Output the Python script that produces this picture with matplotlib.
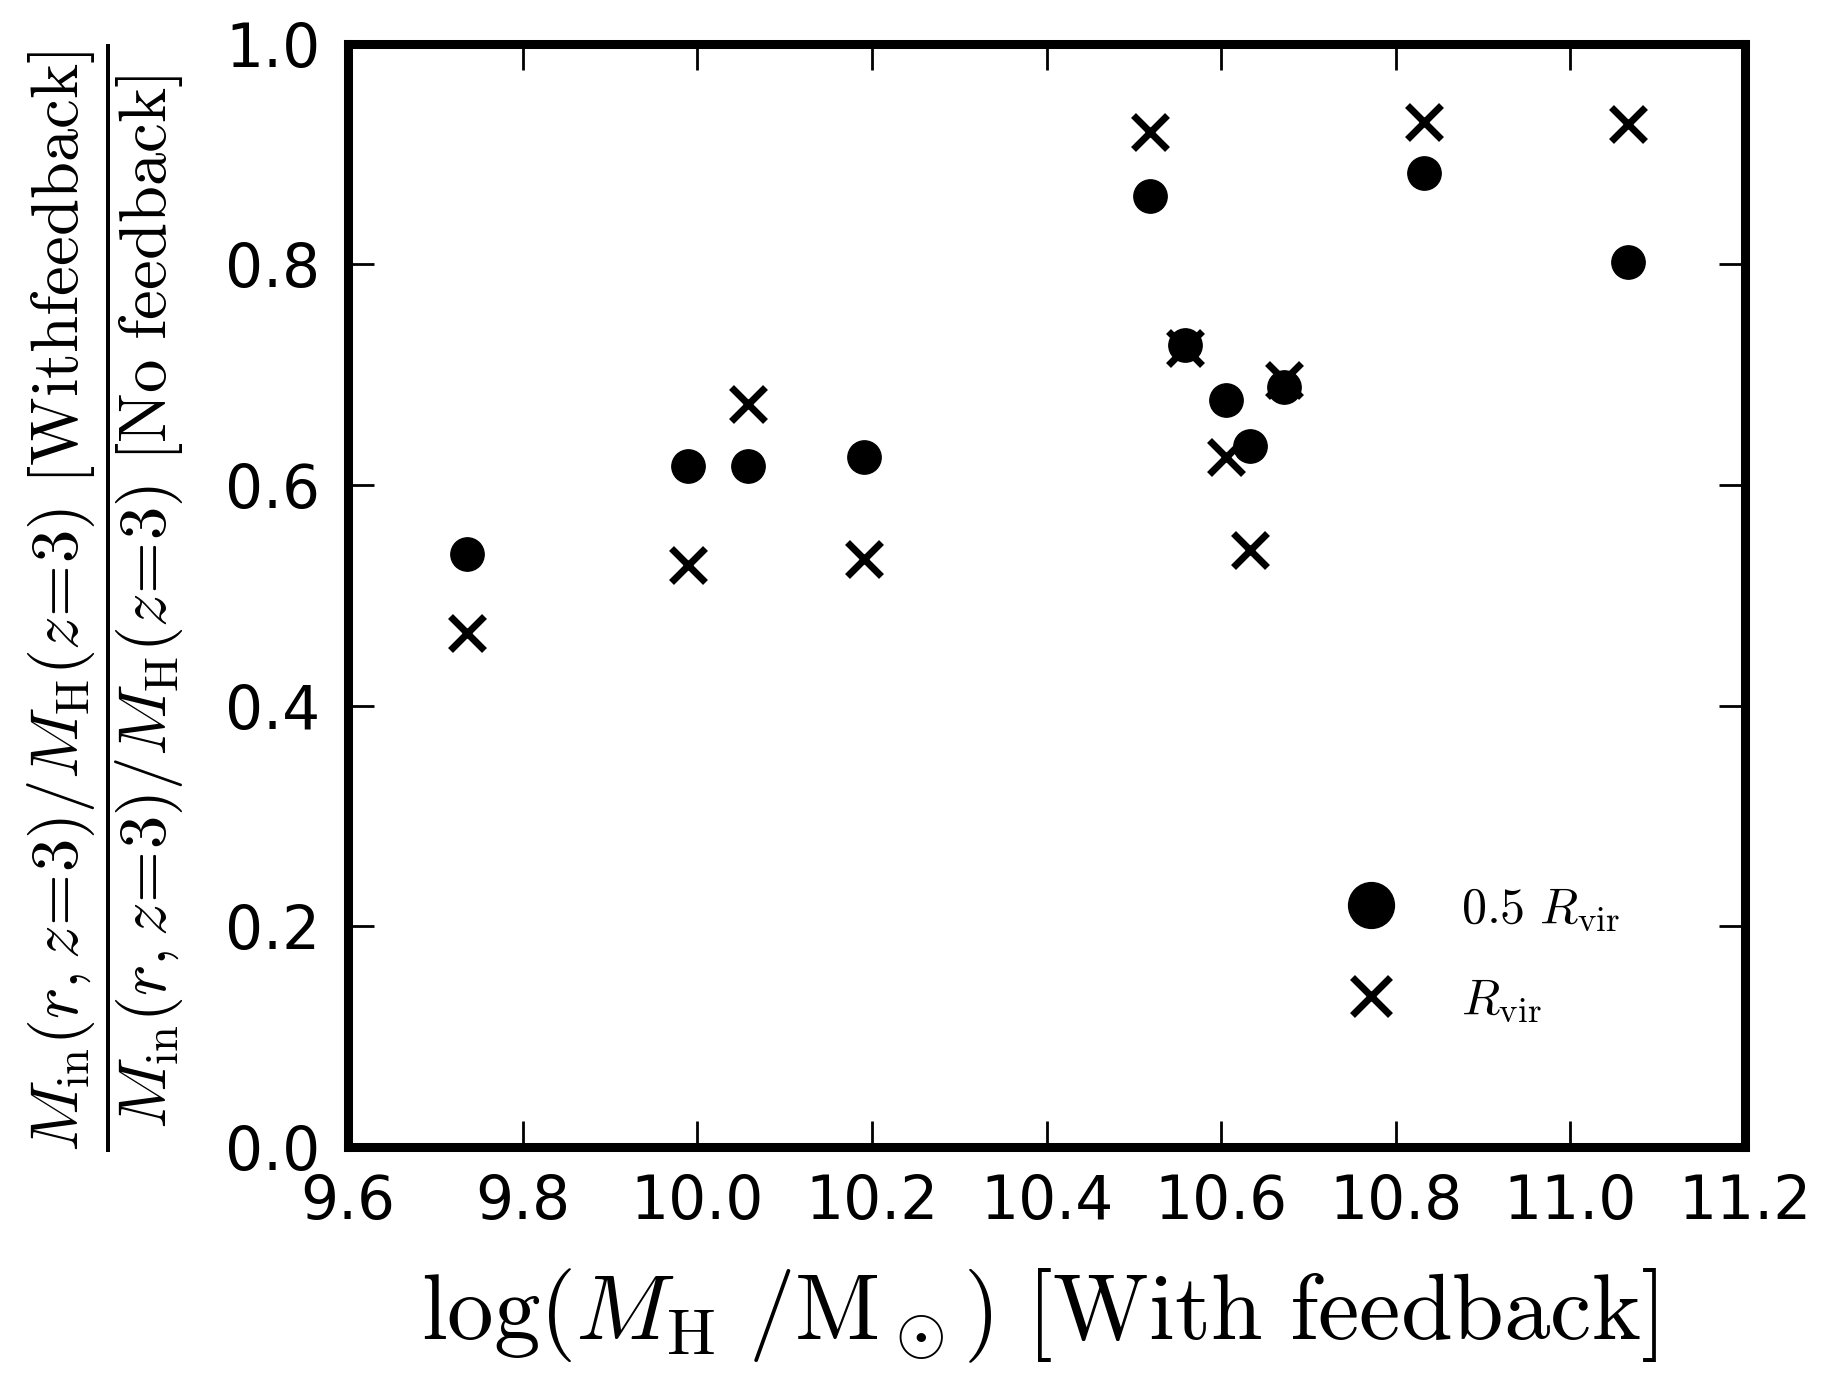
import matplotlib
matplotlib.use("Agg")
import matplotlib.pyplot as plt
from matplotlib.lines import Line2D

# Halo masses (with feedback) and inflow-mass ratios for the two radii
log_mass = [9.736, 9.989, 10.058, 10.191, 10.519, 10.559, 10.606, 10.633, 10.672, 10.832, 11.066]
ratio_half_rvir = [0.537, 0.617, 0.617, 0.625, 0.862, 0.727, 0.677, 0.635, 0.689, 0.883, 0.802]
ratio_rvir = [0.466, 0.527, 0.673, 0.533, 0.920, 0.724, 0.625, 0.541, 0.695, 0.929, 0.927]

x_ticks = [9.6, 9.8, 10.0, 10.2, 10.4, 10.6, 10.8, 11.0, 11.2]
y_ticks = [0.0, 0.2, 0.4, 0.6, 0.8, 1.0]

plt.rcParams["mathtext.fontset"] = "cm"
plt.rcParams["font.family"] = ["DejaVu Sans"]

fig = plt.figure(figsize=(18.26, 13.73), dpi=100)
ax = fig.add_axes([0.1906, 0.1646, 0.7651, 0.8037])

ax.plot(log_mass, ratio_half_rvir, linestyle="none", marker="o", ms=24,
        color="black", mec="black", mew=1)
ax.plot(log_mass, ratio_rvir, linestyle="none", marker="x", ms=24,
        color="black", mew=5)

ax.set_xlim(9.6, 11.2)
ax.set_ylim(0.0, 1.0)
ax.set_xticks(x_ticks)
ax.set_yticks(y_ticks)
ax.set_xticklabels([f"{v:.1f}" for v in x_ticks])
ax.set_yticklabels([f"{v:.1f}" for v in y_ticks])
ax.tick_params(axis="both", which="major", direction="in", length=19, width=2,
               top=True, right=True, labelsize=43)
ax.tick_params(axis="x", pad=19)
ax.tick_params(axis="y", pad=20)
for sp in ax.spines.values():
    sp.set_linewidth(6.5)

fig.text(0.569, 0.0248,
         r"$\log(M_{\rm H}\ /{\rm M}_\odot)\ [{\rm With\ feedback}]$",
         fontsize=67, ha="center", va="baseline")
fig.text(0.058, 0.565,
         r"$\dfrac{M_{\rm in}(r,z\!=\!3)/M_{\rm H}(z\!=\!3)\ [{\rm Withfeedback}]}"
         r"{M_{\rm in}(r,z\!=\!3)/M_{\rm H}(z\!=\!3)\ [{\rm No\ feedback}]}$",
         fontsize=48, rotation=90, ha="center", va="center")

handles = [
    Line2D([], [], linestyle="none", marker="o", ms=33, color="black"),
    Line2D([], [], linestyle="none", marker="x", ms=28, mew=5, color="black"),
]
ax.legend(handles, [r"$0.5\ R_{\rm vir}$", r"$R_{\rm vir}$"],
          frameon=False, fontsize=36, loc="center left",
          bbox_to_anchor=(0.664, 0.175), handletextpad=0.8, labelspacing=0.85)

fig.savefig("out.png", dpi=100)
